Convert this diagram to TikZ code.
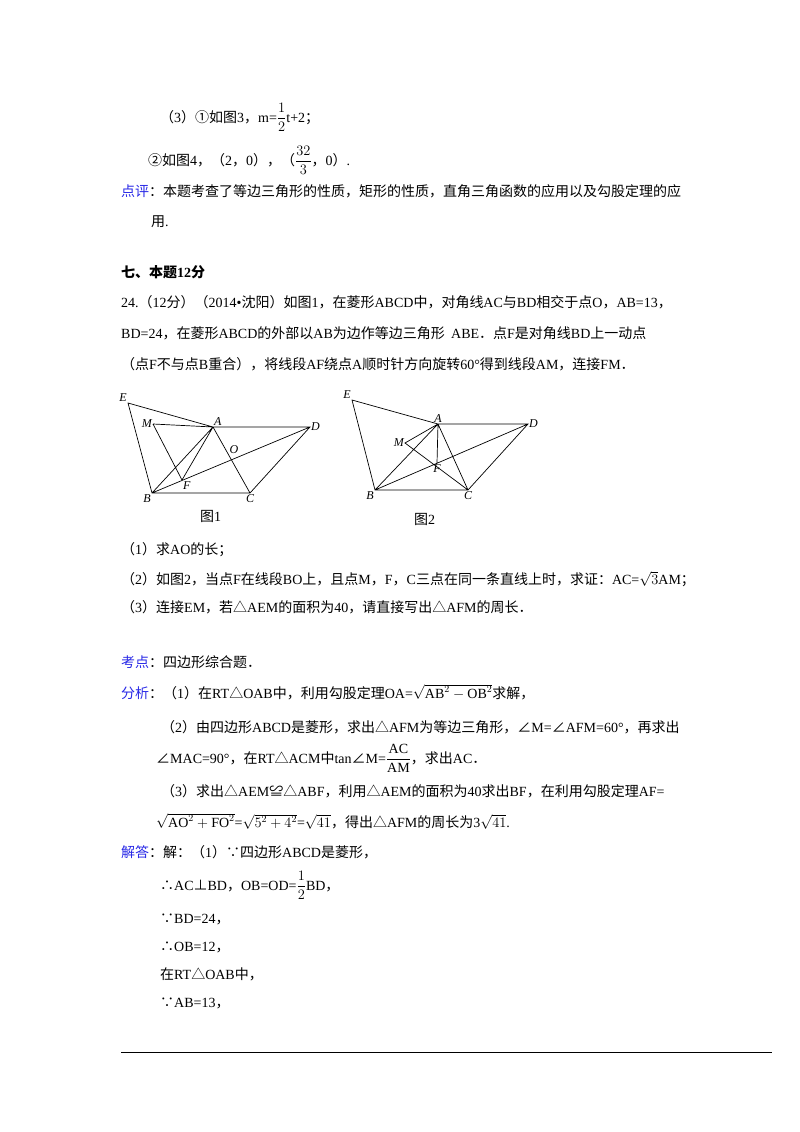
\documentclass[tikz,border=0pt]{standalone}
\usepackage{fontspec}
\setmainfont{Liberation Serif}
\newfontfamily\cjk{Noto Sans CJK SC}
\XeTeXinterchartokenstate=1
\newXeTeXintercharclass\cjkclass
\count255="4E00
\loop\XeTeXcharclass\count255=\cjkclass\advance\count255 1 \ifnum\count255<"A000 \repeat
\count255="3000
\loop\XeTeXcharclass\count255=\cjkclass\advance\count255 1 \ifnum\count255<"3040 \repeat
\count255="FF00
\loop\XeTeXcharclass\count255=\cjkclass\advance\count255 1 \ifnum\count255<"FF20 \repeat
\count255="2460
\loop\XeTeXcharclass\count255=\cjkclass\advance\count255 1 \ifnum\count255<"2470 \repeat
\XeTeXcharclass`∵=\cjkclass \XeTeXcharclass`∴=\cjkclass \XeTeXcharclass`≌=\cjkclass
\XeTeXcharclass`△=\cjkclass \XeTeXcharclass`∠=\cjkclass \XeTeXcharclass`⊥=\cjkclass
\XeTeXinterchartoks 0 \cjkclass={\cjk}
\XeTeXinterchartoks 4095 \cjkclass={\cjk}
\XeTeXinterchartoks \cjkclass 0={\rmfamily}
\definecolor{kblue}{RGB}{40,40,230}
\newcommand\dfr[2]{{\displaystyle\frac{#1}{#2}}}
\begin{document}
\begin{tikzpicture}[x=1pt,y=-1pt,
  t/.style={anchor=base west,inner sep=0pt,font=\fontsize{14}{16}\selectfont},
  lab/.style={inner sep=1pt,font=\fontsize{12}{14}\selectfont\itshape},
  seg/.style={line width=0.7pt}]
\useasboundingbox (0,0) rectangle (800,1132);
\node[t] (l1) at (160,122) {（3）①如图3，m=$\dfr{1}{2}$t+2；};
\node[t] (l2) at (148,165) {②如图4，（2，0），（$\dfr{32}{3}$，0）.};
\node[t] (l3) at (121,196) {\textcolor{kblue}{点评}：本题考查了等边三角形的性质，矩形的性质，直角三角函数的应用以及勾股定理的应};
\node[t] (l4) at (151,226) {用.};
\node[t,font=\fontsize{14}{16}\selectfont\bfseries] (l5) at (121,277) {七、本题12分};
\node[t] (l6) at (121,307) {24.（12分）（2014•沈阳）如图1，在菱形ABCD中，对角线AC与BD相交于点O，AB=13，};
\node[t] (l7) at (121,338) {BD=24，在菱形ABCD的外部以AB为边作等边三角形\ \ \rmfamily ABE．点F是对角线BD上一动点};
\node[t] (l8) at (121,369) {（点F不与点B重合），将线段AF绕点A顺时针方向旋转60°得到线段AM，连接FM．};
% figure 1
\coordinate (E1) at (128,403); \coordinate (A1) at (213,427); \coordinate (M1) at (153,424);
\coordinate (D1) at (310,427); \coordinate (B1) at (152,493); \coordinate (C1) at (250,493);
\coordinate (F1) at (182,480);
\draw[seg] (E1)--(A1)--(D1)--(C1)--(B1)--cycle (M1)--(A1) (M1)--(F1) (A1)--(B1) (A1)--(F1) (A1)--(C1) (B1)--(D1);
\node[lab,anchor=south east] at (E1) {E};
\node[lab,anchor=east] at (M1) {M};
\node[lab,anchor=south west] at (A1) {A};
\node[lab,anchor=west] at (D1) {D};
\node[lab,anchor=north east] at (B1) {B};
\node[lab,anchor=north] at (C1) {C};
\node[lab,anchor=north west] at (F1) {F};
\node[lab] at (234,450) {O};
\node[t] (c1) at (200,521) {图1};
% figure 2
\coordinate (E2) at (352,400); \coordinate (A2) at (438,424); \coordinate (M2) at (405,443);
\coordinate (D2) at (528,424); \coordinate (B2) at (375,490); \coordinate (C2) at (468,490);
\coordinate (F2) at (437,463);
\draw[seg] (E2)--(A2)--(D2)--(C2)--(B2)--cycle (A2)--(B2) (A2)--(M2)--(C2) (A2)--(F2) (A2)--(C2) (B2)--(D2);
\node[lab,anchor=south east] at (E2) {E};
\node[lab,anchor=east] at (M2) {M};
\node[lab,anchor=south] at (A2) {A};
\node[lab,anchor=west] at (D2) {D};
\node[lab,anchor=north east] at (B2) {B};
\node[lab,anchor=north] at (C2) {C};
\node[lab,anchor=north] at (F2) {F};
\node[t] (c2) at (414,524) {图2};
\node[t] (q1) at (121,554) {（1）求AO的长；};
\node[t] (q2) at (121,584) {（2）如图2，当点F在线段BO上，且点M，F，C三点在同一条直线上时，求证：AC=$\sqrt{3}$AM；};
\node[t] (q3) at (121,612) {（3）连接EM，若△AEM的面积为40，请直接写出△AFM的周长．};
\node[t] (k1) at (121,667) {\textcolor{kblue}{考点}：四边形综合题．};
\node[t] (k2) at (121,698) {\textcolor{kblue}{分析}：（1）在RT△OAB中，利用勾股定理OA=$\sqrt{\mathrm{AB}^2-\mathrm{OB}^2}$求解，};
\node[t] (k3) at (161,732) {（2）由四边形ABCD是菱形，求出△AFM为等边三角形，∠M=∠AFM=60°，再求出};
\node[t] (k4) at (156,763) {∠MAC=90°，在RT△ACM中tan∠M=$\dfr{\mathrm{AC}}{\mathrm{AM}}$，求出AC．};
\node[t] (k5) at (161,796) {（3）求出△AEM≌△ABF，利用△AEM的面积为40求出BF，在利用勾股定理AF=};
\node[t] (k6) at (156,827) {$\sqrt{\mathrm{AO}^2+\mathrm{FO}^2}$=$\sqrt{5^2+4^2}$=$\sqrt{41}$，得出△AFM的周长为3$\sqrt{41}$.};
\node[t] (j1) at (121,857) {\textcolor{kblue}{解答}：解：（1）∵四边形ABCD是菱形，};
\node[t] (j2) at (160,890) {∴AC⊥BD，OB=OD=$\dfr{1}{2}$BD，};
\node[t] (j3) at (160,923) {∵BD=24，};
\node[t] (j4) at (160,951) {∴OB=12，};
\node[t] (j5) at (160,979) {在RT△OAB中，};
\node[t] (j6) at (160,1007) {∵AB=13，};
\draw[line width=0.7pt] (121,1052) -- (772,1052);
\end{tikzpicture}
\end{document}
